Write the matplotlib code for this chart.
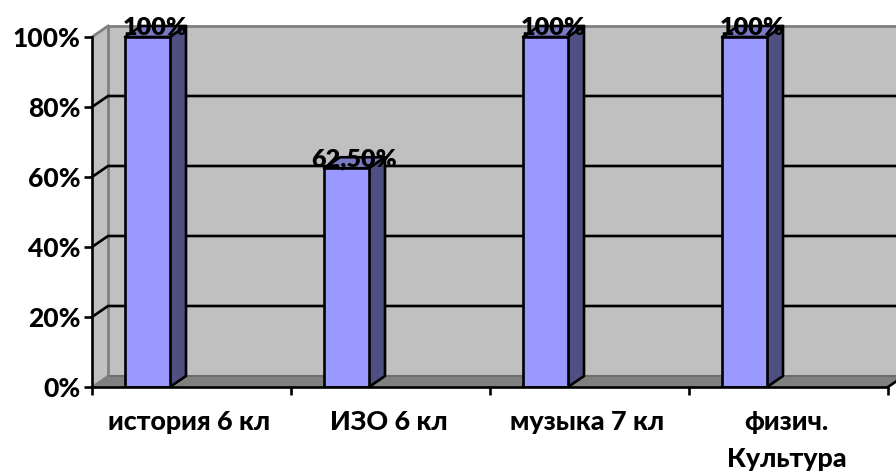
#coding:utf-8
# столбчатая диаграмма с псевдо-3D стенками
import matplotlib
matplotlib.use('Agg')
import matplotlib.pyplot as plt
from matplotlib.patches import Polygon

categories = ['история 6 кл', 'ИЗО 6 кл', 'музыка 7 кл', 'физич.\nКультура']
values = [100, 62.5, 100, 100]
value_labels = ['100%', '62,50%', '100%', '100%']
y_ticks = [0, 20, 40, 60, 80, 100]

plt.rcParams['font.family'] = ['Lato', 'Open Sans', 'DejaVu Sans']

W, H = 896, 475
fig = plt.figure(figsize=(W / 100, H / 100), dpi=100, facecolor='white')
# оси: x 0..4 -> 92..888 px, y 0..100 -> 387..37 px
ax = fig.add_axes([92 / W, 1 - 387 / H, 796 / W, 350 / H])
ax.set_xlim(0, 4)
ax.set_ylim(0, 100)
ax.patch.set_visible(False)

# сдвиг глубины в единицах данных
dx = 16 / 199
dy = 11 / 3.5
lw = 1.9


def poly(pts, fc, ec='none', z=1, l=0):
    ax.add_patch(Polygon(pts, closed=True, facecolor=fc, edgecolor=ec, linewidth=l,
                         zorder=z, clip_on=False, joinstyle='round'))


# стенки и пол
poly([(dx, dy), (4.2, dy), (4.2, 100 + dy), (dx, 100 + dy)], '#C0C0C0')
poly([(0, 0), (dx, dy), (dx, 100 + dy), (0, 100)], '#C0C0C0')
poly([(0, 0), (4, 0), (4 + dx, dy), (dx, dy)], '#808080')
ax.plot([dx, dx], [dy, 100 + dy], color='#808080', lw=2, zorder=1.5, clip_on=False)
ax.plot([0, dx], [100, 100 + dy], color='#808080', lw=2, zorder=1.5, clip_on=False)
ax.plot([dx, 4.2], [100 + dy, 100 + dy], color='#808080', lw=2, zorder=1.5, clip_on=False)
ax.plot([dx, 4 + dx], [dy, dy], color='#6E6E6E', lw=1.5, zorder=1.5, clip_on=False)
ax.plot([0, dx], [0, dy], color='#808080', lw=1.5, zorder=1.5, clip_on=False)

# линии сетки
for t in y_ticks[1:-1]:
    ax.plot([0, dx, 4.2], [t, t + dy, t + dy], color='black', lw=lw, zorder=2, clip_on=False)

# столбцы
bar_left = 33 / 199
bar_w = 45 / 199
for i, v in enumerate(values):
    x0 = i + bar_left
    x1 = x0 + bar_w
    poly([(x0, v), (x1, v), (x1 + dx, v + dy), (x0 + dx, v + dy)], '#7A7AC4', 'black', 3, lw)
    poly([(x1, 0), (x1 + dx, dy), (x1 + dx, v + dy), (x1, v)], '#4F4F82', 'black', 3, lw)
ax.bar([i + bar_left for i in range(4)], values, width=bar_w, align='edge',
       color='#9999FF', edgecolor='black', linewidth=lw, zorder=4)

for i, (v, s) in enumerate(zip(values, value_labels)):
    ax.text(i + bar_left + bar_w / 2 + 8 / 199, v + 2.5, s, ha='center', va='center',
            fontsize=18.2, fontweight=800, color='black', zorder=6, clip_on=False)

# оси
ax.set_yticks(y_ticks)
ax.set_yticklabels(['%d%%' % t for t in y_ticks], fontsize=19, fontweight=900)
ax.set_xticks(range(5))
ax.set_xticklabels([])
ax.tick_params(axis='y', length=6, width=lw, pad=2.5)
ax.tick_params(axis='x', length=6, width=lw)
for s in ['top', 'right']:
    ax.spines[s].set_visible(False)
for s in ['left', 'bottom']:
    ax.spines[s].set_linewidth(lw)
    ax.spines[s].set_zorder(5)
ax.plot([4, 4 + dx], [0, dy], color='black', lw=lw, zorder=5, clip_on=False)

for i, c in enumerate(categories):
    ax.text(i + 0.49, -6.7, c, ha='center', va='top', fontsize=19.4,
            fontweight=900, linespacing=1.62, clip_on=False)

fig.savefig('out.png', dpi=100)
